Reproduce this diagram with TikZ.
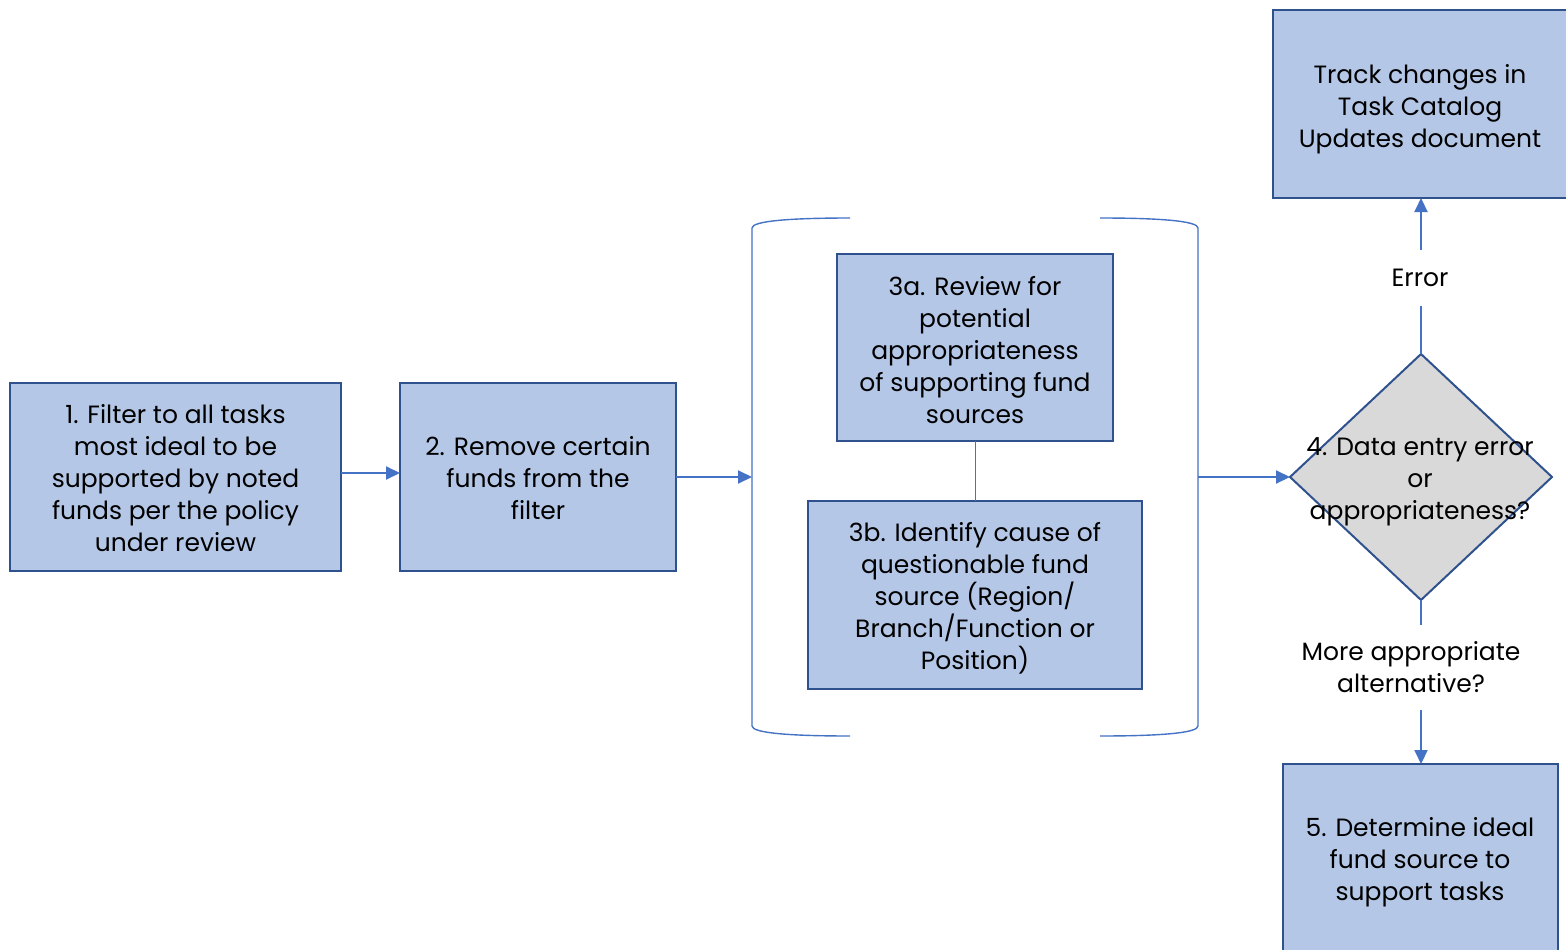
\documentclass[tikz,border=0pt]{standalone}
\usepackage{fontspec}
\setmainfont{Poppins}
\usetikzlibrary{shapes.geometric,arrows.meta}
\definecolor{boxfill}{HTML}{B4C7E7}
\definecolor{boxline}{HTML}{2F528F}
\definecolor{arrowc}{HTML}{4472C4}
\definecolor{dfill}{HTML}{D9D9D9}
\tikzset{
  every node/.style={font=\fontsize{25pt}{32pt}\selectfont, text=black},
  proc/.style={draw=boxline, fill=boxfill, line width=2pt, rectangle, inner sep=0pt, outer sep=0pt},
  conn/.style={draw=arrowc, line width=2pt},
  arr/.style={conn, -{Triangle[length=14pt,width=13pt]}},
  lbl/.style={align=center, inner sep=0pt, outer sep=0pt},
  brk/.style={draw=arrowc, line width=1.4pt}
}
\begin{document}
\begin{tikzpicture}[x=1pt,y=-1pt]
\useasboundingbox (0,0) rectangle (1566,950);
\clip (0,0) rectangle (1566,950);
% boxes
\node[proc, minimum width=331pt, minimum height=188pt] (b1) at (175.5,477) {};
\node[lbl] (b1t) at (175.5,478) {1. Filter to all tasks\\most ideal to be\\supported by noted\\funds per the policy\\under review};
\node[proc, minimum width=276pt, minimum height=188pt] (b2) at (538,477) {};
\node[lbl] (b2t) at (538,478) {2. Remove certain\\funds from the\\filter};
\node[proc, minimum width=276pt, minimum height=187pt] (b3a) at (975,347.5) {};
\node[lbl] (b3at) at (975,350) {3a. Review for\\potential\\appropriateness\\of supporting fund\\sources};
\node[proc, minimum width=334pt, minimum height=188pt] (b3b) at (975,595) {};
\node[lbl] (b3bt) at (975,598) {3b. Identify cause of\\questionable fund\\source (Region/\\Branch/Function or\\Position)};
\node[proc, minimum width=295pt, minimum height=188pt] (top) at (1420.5,104) {};
\node[lbl] (topt) at (1420,109) {Track changes in\\Task Catalog\\Updates document};
\node[proc, minimum width=275pt, minimum height=190pt] (bot) at (1420.5,859) {};
\node[lbl] (bott) at (1420,862) {5. Determine ideal\\fund source to\\support tasks};
% diamond
\node[draw=boxline, fill=dfill, line width=2pt, diamond, minimum width=262pt, minimum height=246pt, inner sep=0pt, outer sep=0pt] (d) at (1421,477) {};
\node[lbl] (dt) at (1420,482) {4. Data entry error\\or\\appropriateness?};
% labels
\node[lbl, minimum height=56pt] (err) at (1420,278) {Error};
\node[lbl, minimum height=85pt] (more) at (1411,667.5) {More appropriate\\alternative?};
% bracket
\coordinate (bl) at (752,477);
\coordinate (br) at (1198,477);
\draw[brk] (850,218) .. controls (790,218) and (752,221) .. (752,228) -- (752,726) .. controls (752,733) and (790,736) .. (850,736);
\draw[brk] (1100,218) .. controls (1160,218) and (1198,221) .. (1198,228) -- (1198,726) .. controls (1198,733) and (1160,736) .. (1100,736);
% connectors
\draw[arr] (b1.east |- 0,473) -- (b2.west |- 0,473);
\draw[arr] (b2.east) -- (bl);
\draw[arr] (br) -- (d.west);
\draw[conn, line width=1pt] (b3a.south) -- (b3b.north);
\draw[conn] (d.north) -- (d.north |- err.south);
\draw[arr] (d.north |- err.north) -- (top.south -| d.north);
\draw[conn] (d.south) -- (d.south |- more.north);
\draw[arr] (d.south |- more.south) -- (bot.north -| d.south);
\end{tikzpicture}
\end{document}
